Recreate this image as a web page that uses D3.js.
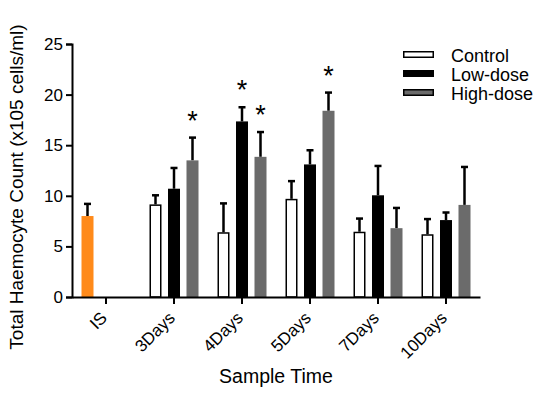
<!DOCTYPE html>
<html>
<head>
<meta charset="utf-8">
<script src="https://cdn.jsdelivr.net/npm/d3@7"></script>
<style>
  body { margin: 0; background: #fff; }
  svg { font-family: Arial, "Liberation Sans", Helvetica, sans-serif; }
</style>
</head>
<body>
<svg id="chart" width="550" height="393"></svg>
<script>
// sample times on the x axis
var times = ['IS', '3Days', '4Days', '5Days', '7Days', '10Days'];
var groups = ['Control', 'Low-dose', 'High-dose'];

// mean counts (x10^5 cells/ml), null = no bar
var control = [null, 9.15, 6.4, 9.7, 6.45, 6.2];
var lowDose = [null, 10.7, 17.35, 13.1, 10.05, 7.6];
var highDose = [null, 13.5, 13.85, 18.4, 6.8, 9.1];
var initial = [8.0];

// upper error (mean + sd)
var controlErr = [null, 10.05, 9.25, 11.45, 7.75, 7.7];
var lowErr = [null, 12.75, 18.75, 14.5, 12.95, 8.35];
var highErr = [null, 15.75, 16.3, 20.2, 8.8, 12.85];
var initialErr = [9.2];

// significance marks
var lowSig = [false, false, true, false, false, false];
var highSig = [false, true, true, true, false, false];

var yTicks = [0, 5, 10, 15, 20, 25];

var svg = d3.select('#chart');
var x = d3.scaleBand().domain(times).range([72, 480]).padding(0);
var y = d3.scaleLinear().domain([0, 25]).range([297, 44]);
var sub = d3.scalePoint().domain(groups).range([-18.5, 18.5]);
var fills = { 'Control': '#ffffff', 'Low-dose': '#000000', 'High-dose': '#6b6b6b' };
var barW = 12;

var rows = [];
times.forEach(function(t, i) {
  if (i === 0) {
    rows.push({ t: t, g: 'Control', v: initial[0], e: initialErr[0], sig: false, fill: '#ff8a1a', stroke: '#ff8a1a' });
    return;
  }
  rows.push({ t: t, g: 'Control', v: control[i], e: controlErr[i], sig: false, fill: fills['Control'], stroke: '#000' });
  rows.push({ t: t, g: 'Low-dose', v: lowDose[i], e: lowErr[i], sig: lowSig[i], fill: fills['Low-dose'], stroke: '#000' });
  rows.push({ t: t, g: 'High-dose', v: highDose[i], e: highErr[i], sig: highSig[i], fill: fills['High-dose'], stroke: fills['High-dose'] });
});

function cx(d) { return x(d.t) + x.bandwidth() / 2 + sub(d.g); }

// error bars (upward only)
var eb = svg.append('g');
eb.selectAll('line.stem').data(rows).join('line')
  .attr('x1', cx).attr('x2', cx)
  .attr('y1', function(d) { return y(d.v); })
  .attr('y2', function(d) { return y(d.e); })
  .attr('stroke', '#000').attr('stroke-width', 2.5);
eb.selectAll('line.cap').data(rows).join('line')
  .attr('x1', function(d) { return cx(d) - 3.5; })
  .attr('x2', function(d) { return cx(d) + 3.5; })
  .attr('y1', function(d) { return y(d.e); })
  .attr('y2', function(d) { return y(d.e); })
  .attr('stroke', '#000').attr('stroke-width', 2.5);

svg.append('g').selectAll('rect').data(rows).join('rect')
  .attr('x', function(d) { return cx(d) - barW / 2 + 0.75; })
  .attr('width', barW - 1.5)
  .attr('y', function(d) { return y(d.v) + 0.75; })
  .attr('height', function(d) { return y(0) - y(d.v) - 0.75; })
  .attr('fill', function(d) { return d.fill; })
  .attr('stroke', function(d) { return d.stroke; })
  .attr('stroke-width', 1.5);

svg.append('g').selectAll('text').data(rows.filter(function(d) { return d.sig; })).join('text')
  .attr('x', cx)
  .attr('y', function(d) { return y(d.e) - 8; })
  .attr('text-anchor', 'middle')
  .attr('font-size', 27)
  .text('*');

// axes
var yAxis = svg.append('g').attr('transform', 'translate(72,0)')
  .call(d3.axisLeft(y).tickValues(yTicks).tickSize(6).tickPadding(3));
var xAxis = svg.append('g').attr('transform', 'translate(0,297)')
  .call(d3.axisBottom(x).tickSize(7).tickSizeOuter(0));
[yAxis, xAxis].forEach(function(a) {
  a.select('.domain').attr('stroke-width', 2);
  a.selectAll('.tick line').attr('stroke-width', 2);
});
yAxis.selectAll('text').attr('font-size', 17).attr('fill', '#000');
xAxis.selectAll('text')
  .attr('font-size', 17).attr('fill', '#000')
  .attr('text-anchor', 'end')
  .attr('dy', null).attr('y', null)
  .attr('transform', 'translate(2,22) rotate(-45)');

svg.append('text')
  .attr('transform', 'translate(23,187) rotate(-90)')
  .attr('text-anchor', 'middle').attr('font-size', 19)
  .text('Total Haemocyte Count (x105 cells/ml)');
svg.append('text')
  .attr('x', 276).attr('y', 383)
  .attr('text-anchor', 'middle').attr('font-size', 19.5)
  .text('Sample Time');

// legend
var leg = svg.append('g').selectAll('g').data(groups).join('g')
  .attr('transform', function(d, i) { return 'translate(403,' + (51 + i * 19) + ')'; });
leg.append('rect')
  .attr('x', 0.75).attr('y', 0.75).attr('width', 29.5).attr('height', 5.5)
  .attr('fill', function(d) { return fills[d]; })
  .attr('stroke', '#000').attr('stroke-width', 1.5);
leg.append('text')
  .attr('x', 48).attr('y', 11)
  .attr('font-size', 18)
  .text(function(d) { return d; });
</script>
</body>
</html>
